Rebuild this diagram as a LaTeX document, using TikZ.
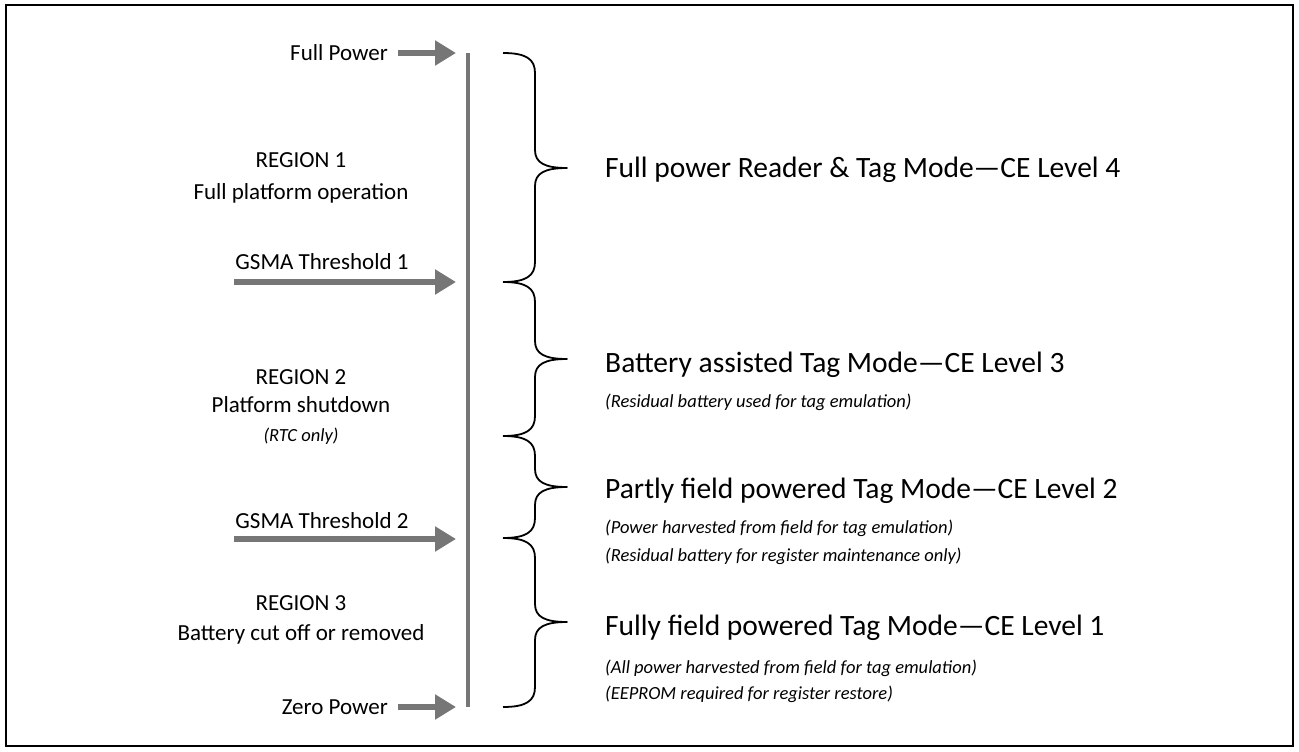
\documentclass[tikz,border=0pt]{standalone}
\usepackage{fontspec}
\setmainfont{Carlito}
\usetikzlibrary{arrows.meta}
\definecolor{arrgray}{RGB}{118,118,118}
\tikzset{
  lefttxt/.style={font=\fontsize{23}{26}\selectfont, inner sep=0pt},
  titletxt/.style={font=\fontsize{29.5}{33}\selectfont, inner sep=0pt, anchor=base west},
  subtxt/.style={font=\fontsize{18.5}{21}\selectfont\itshape, inner sep=0pt, anchor=base west},
  powarrow/.style={draw=arrgray, line width=6pt, -{Triangle[length=21pt,width=24pt]}, arrgray},
  axis/.style={draw=arrgray, line width=4.5pt},
  bracestyle/.style={draw=black, line width=1.8pt, line join=round}
}
\newcommand\BraceAt[3]{% top, tip, bottom (y values)
  \draw[bracestyle] (503,#1) .. controls (526,#1) and (535,#1+6) .. (535,#1+20)
    -- (535,#2-18) .. controls (535,#2-5) and (545,#2) .. (567,#2)
    .. controls (545,#2) and (535,#2+5) .. (535,#2+18)
    -- (535,#3-20) .. controls (535,#3-6) and (526,#3) .. (503,#3);
}
\begin{document}
\begin{tikzpicture}[x=1pt,y=-1pt]
\useasboundingbox (0,0) rectangle (1299,752);
\draw[line width=2pt] (6,5) rectangle (1293,746);

% vertical axis
\coordinate (top) at (468,53);
\coordinate (bot) at (468,707);
\draw[axis] (top) -- (bot);

% left labels
\node[lefttxt, anchor=base east] (fp) at (388,60) {Full Power};
\node[lefttxt, anchor=base] (r1) at (301,167) {REGION 1};
\node[lefttxt, anchor=base] (r1d) at (301,199) {Full platform operation};
\node[lefttxt, anchor=base] (g1) at (322,269) {GSMA Threshold 1};
\node[lefttxt, anchor=base] (r2) at (301,384) {REGION 2};
\node[lefttxt, anchor=base] (r2d) at (301,412) {Platform shutdown};
\node[font=\fontsize{18.5}{21}\selectfont\itshape, inner sep=0pt, anchor=base] (r2e) at (301,441) {(RTC only)};
\node[lefttxt, anchor=base] (g2) at (322,528) {GSMA Threshold 2};
\node[lefttxt, anchor=base] (r3) at (301,610) {REGION 3};
\node[lefttxt, anchor=base] (r3d) at (301,640) {Battery cut off or removed};
\node[lefttxt, anchor=base east] (zp) at (388,714) {Zero Power};

% arrows
\coordinate (fpS) at (398,53);  \coordinate (fpE) at (456,53);
\coordinate (g1S) at (234,282); \coordinate (g1E) at (456,282);
\coordinate (g2S) at (234,539); \coordinate (g2E) at (456,539);
\coordinate (zpS) at (398,707); \coordinate (zpE) at (456,707);
\draw[powarrow] (fpS) -- (fpE);
\draw[powarrow] (g1S) -- (g1E);
\draw[powarrow] (g2S) -- (g2E);
\draw[powarrow] (zpS) -- (zpE);

% braces
\BraceAt{53}{168}{282}
\BraceAt{282}{359}{436}
\BraceAt{436}{487}{538}
\BraceAt{538}{622}{707}

% right labels
\node[titletxt] (l4) at (605,177) {Full power Reader \& Tag Mode—CE Level 4};
\node[titletxt] (l3) at (605,372) {Battery assisted Tag Mode—CE Level 3};
\node[subtxt] (l3a) at (605,407) {(Residual battery used for tag emulation)};
\node[titletxt] (l2) at (605,498) {Partly field powered Tag Mode—CE Level 2};
\node[subtxt] (l2a) at (605,533) {(Power harvested from field for tag emulation)};
\node[subtxt] (l2b) at (605,561) {(Residual battery for register maintenance only)};
\node[titletxt] (l1) at (605,635) {Fully field powered Tag Mode—CE Level 1};
\node[subtxt] (l1a) at (605,673) {(All power harvested from field for tag emulation)};
\node[subtxt] (l1b) at (605,699) {(EEPROM required for register restore)};
\end{tikzpicture}
\end{document}
